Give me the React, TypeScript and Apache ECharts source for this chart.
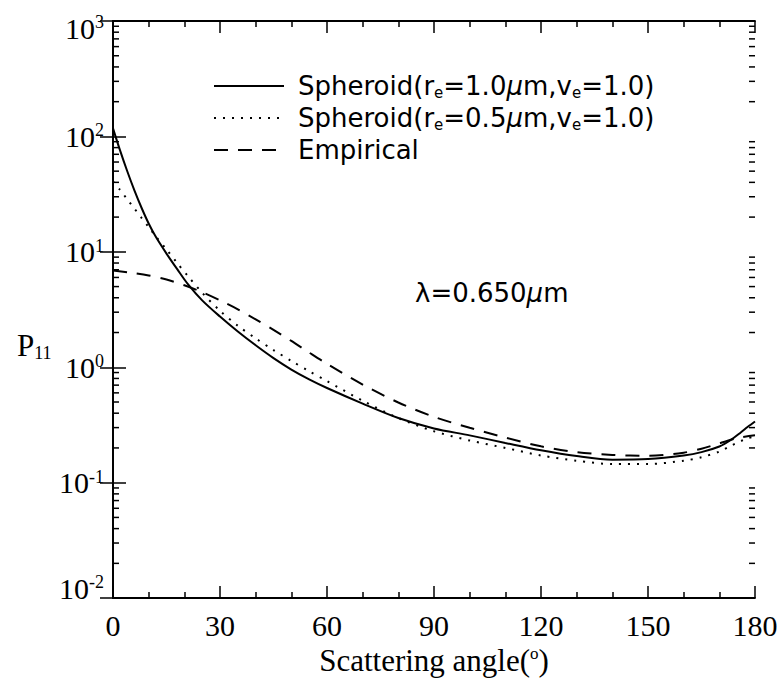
import React, { useEffect, useRef } from "react";
import * as echarts from "echarts";

// Scattering angles (degrees) for the spheroid models
const angles = [0, 2, 4, 6, 8, 10, 12, 15, 18, 21, 25, 30, 35, 40, 45, 50, 55, 60, 70, 80, 90, 100, 110, 120, 130, 140, 150, 160, 165, 170, 173, 176, 178, 180];
// P11, spheroid re=1.0um, ve=1.0 (solid)
const sph10 = [117.5, 75.3, 49.9, 34.1, 24.1, 17.6, 13.5, 9.66, 7.08, 5.25, 3.8, 2.75, 2.04, 1.55, 1.2, 0.955, 0.785, 0.661, 0.484, 0.363, 0.295, 0.257, 0.221, 0.191, 0.17, 0.158, 0.16, 0.172, 0.184, 0.206, 0.232, 0.272, 0.305, 0.339];
// P11, spheroid re=0.5um, ve=1.0 (dotted)
const sph05 = [40.7, 34.3, 28.5, 23.7, 19.7, 16.4, 13.6, 10.5, 8.0, 6.17, 4.42, 3.09, 2.29, 1.78, 1.41, 1.135, 0.923, 0.759, 0.513, 0.363, 0.279, 0.232, 0.2, 0.172, 0.155, 0.145, 0.145, 0.155, 0.166, 0.186, 0.207, 0.229, 0.243, 0.251];
// Empirical phase function (dashed)
const empAngles = [0, 5, 10, 15, 20, 25, 30, 35, 40, 45, 50, 55, 60, 70, 80, 90, 100, 110, 120, 130, 140, 150, 160, 165, 170, 175, 180];
const empirical = [6.9, 6.6, 6.24, 5.75, 5.13, 4.47, 3.8, 3.18, 2.6, 2.11, 1.69, 1.34, 1.07, 0.708, 0.495, 0.372, 0.299, 0.246, 0.2065, 0.184, 0.174, 0.171, 0.182, 0.197, 0.219, 0.243, 0.257];

// Log-axis minor tick values (2..9 x 10^n)
const minorTickValues: number[] = [];
[0.01, 0.1, 1, 10, 100].forEach((d) => {
  [2, 3, 4, 5, 6, 7, 8, 9].forEach((m) => minorTickValues.push(+(m * d).toPrecision(3)));
});

const names = ["Spheroid(re=1.0μm,ve=1.0)", "Spheroid(re=0.5μm,ve=1.0)", "Empirical"];
const legendRich: Record<string, string> = {
  [names[0]]: "{t|Spheroid(r}{s|e}{t|=1.0}{mu|μ}{t|m,v}{s|e}{t|=1.0)}",
  [names[1]]: "{t|Spheroid(r}{s|e}{t|=0.5}{mu|μ}{t|m,v}{s|e}{t|=1.0)}",
  [names[2]]: "{t|Empirical}",
};

const SANS = "DejaVu Sans";
const SERIF = "Liberation Serif";

export default function App() {
  const ref = useRef<HTMLDivElement>(null);
  useEffect(() => {
    if (!ref.current) return;
    const chart = echarts.init(ref.current, undefined, { renderer: "svg" });
    const axisLine = { show: true, lineStyle: { color: "#000", width: 1.8 } };
    const tickStyle = { color: "#000", width: 1.5 };
    const xCommon = {
      type: "value",
      min: 0,
      max: 180,
      interval: 30,
      axisLine,
      axisTick: { show: true, inside: true, length: 12, lineStyle: tickStyle },
      minorTick: { show: true, splitNumber: 3, length: 6, lineStyle: tickStyle },
      splitLine: { show: false },
      minorSplitLine: { show: false },
    };
    const yCommon = {
      type: "log",
      logBase: 10,
      min: 0.01,
      max: 1000,
      axisLine,
      axisTick: { show: true, inside: true, length: 13, lineStyle: tickStyle },
      splitLine: { show: false },
    };
    const labelRich = {
      b: { fontFamily: SERIF, fontSize: 30, lineHeight: 30, color: "#000" },
      s: { fontFamily: SERIF, fontSize: 18, lineHeight: 18, verticalAlign: "top", color: "#000" },
      gt: { fontSize: 10, lineHeight: 14 },
      gb: { fontSize: 10, lineHeight: 20 },
    };
    const ser = (name: string, xs: number[], ys: number[], type: any) => ({
      name,
      type: "line",
      data: xs.map((x, i) => [x, ys[i]]),
      showSymbol: false,
      symbol: "none",
      smooth: 0.3,
      lineStyle: { color: "#000", width: 2, type },
      itemStyle: { color: "#000" },
      z: 3,
    });
    chart.setOption({
      animation: false,
      backgroundColor: "#fff",
      grid: { left: 113, top: 21, width: 642, height: 579, containLabel: false },
      xAxis: [
        {
          ...xCommon,
          position: "bottom",
          axisLabel: { color: "#000", fontFamily: SERIF, fontSize: 30, margin: 12 },
          name: "{n|Scattering angle(}{o|o}{n|)}",
          nameLocation: "middle",
          nameGap: 37,
          nameTextStyle: {
            rich: {
              n: { fontFamily: SERIF, fontSize: 31, lineHeight: 31, color: "#000" },
              o: { fontFamily: SERIF, fontSize: 17, lineHeight: 17, verticalAlign: "top", color: "#000" },
            },
          },
        },
        { ...xCommon, position: "top", axisLabel: { show: false } },
      ],
      yAxis: [
        {
          ...yCommon,
          position: "left",
          axisLabel: {
            margin: 9,
            formatter: (v: number) => {
              const e = Math.round(Math.log10(v));
              const core = `{b|10}{s|${e}}`;
              if (e === 3) return `{gt| }\n${core}`;
              if (e === -2) return `${core}\n{gb| }`;
              return core;
            },
            rich: labelRich,
          },
        },
        { ...yCommon, position: "right", axisLabel: { show: false } },
      ],
      legend: {
        data: names,
        orient: "vertical",
        left: 208,
        top: 68,
        itemWidth: 70,
        itemHeight: 14,
        itemGap: 5,
        itemStyle: { opacity: 0 },
        formatter: (n: string) => legendRich[n],
        textStyle: {
          color: "#000",
          fontFamily: SANS,
          fontSize: 26,
          padding: [0, 0, 0, 9],
          rich: {
            t: { fontFamily: SANS, fontSize: 26, lineHeight: 28, color: "#000" },
            s: { fontFamily: SANS, fontSize: 15, lineHeight: 14, verticalAlign: "bottom", color: "#000" },
            mu: { fontFamily: SANS, fontSize: 26, lineHeight: 28, fontStyle: "italic", color: "#000" },
          },
        },
      },
      graphic: [
        {
          type: "text",
          left: 415,
          top: 280,
          style: {
            text: "{t|λ=0.650}{mu|μ}{t|m}",
            rich: {
              t: { fontFamily: SANS, fontSize: 26, lineHeight: 28, fill: "#000" },
              mu: { fontFamily: SANS, fontSize: 26, lineHeight: 28, fontStyle: "italic", fill: "#000" },
            },
          },
        },
        {
          type: "text",
          left: 17,
          top: 330,
          style: {
            text: "{p|P}{s|11}",
            rich: {
              p: { fontFamily: SERIF, fontSize: 31, lineHeight: 32, fill: "#000" },
              s: { fontFamily: SERIF, fontSize: 18, lineHeight: 14, verticalAlign: "bottom", fill: "#000" },
            },
          },
        },
      ],
      series: [
        ser(names[0], angles, sph10, "solid"),
        ser(names[1], angles, sph05, [2, 7]),
        ser(names[2], empAngles, empirical, [14, 10]),
        {
          name: "minorTicks",
          type: "custom",
          silent: true,
          xAxisIndex: 0,
          yAxisIndex: 0,
          data: minorTickValues.map((v) => [0, v]),
          encode: { x: 0, y: 1 },
          renderItem: (params: any, api: any) => {
            const v = api.value(1);
            const l = api.coord([0, v]);
            const r = api.coord([180, v]);
            const st = { stroke: "#000", lineWidth: 1.5 };
            return {
              type: "group",
              children: [
                { type: "line", shape: { x1: l[0], y1: l[1], x2: l[0] + 6, y2: l[1] }, style: st },
                { type: "line", shape: { x1: r[0] - 6, y1: r[1], x2: r[0], y2: r[1] }, style: st },
              ],
            };
          },
          z: 2,
        },
      ],
    });
    return () => chart.dispose();
  }, []);
  return <div ref={ref} style={{ width: 784, height: 681, position: "absolute", left: 0, top: 0 }} />;
}
